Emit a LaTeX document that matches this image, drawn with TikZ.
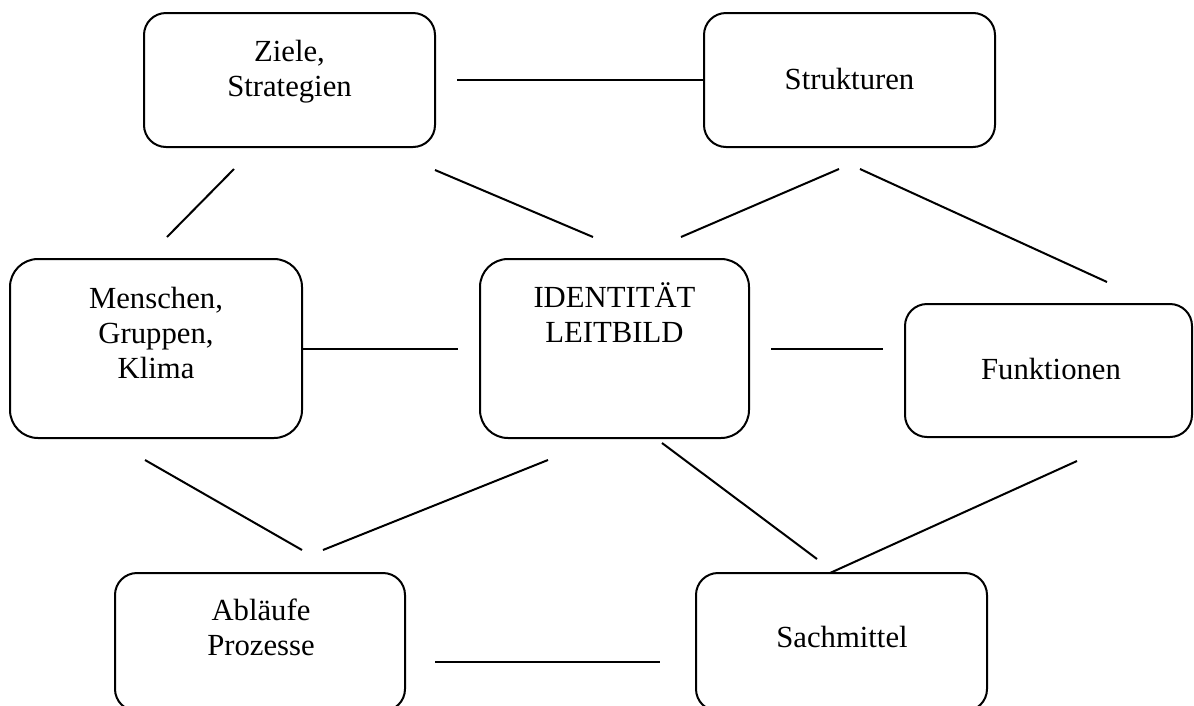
\documentclass[tikz,border=0pt]{standalone}
\usepackage{fontspec}
\setmainfont{Liberation Serif}
\begin{document}
\begin{tikzpicture}[x=1pt,y=-1pt,
  box/.style={draw=black, line width=2pt, rounded corners=22pt, inner sep=0pt},
  tallbox/.style={box, rounded corners=28pt},
  txt/.style={anchor=north, inner sep=0pt, align=center, font=\fontsize{30.7}{35.3}\selectfont},
  conn/.style={draw=black, line width=2pt}]
\clip (0,0) rectangle (1194,705);
% boxes
\node[box, minimum width=291pt, minimum height=134pt] (ziele) at (289.5,80) {};
\node[box, minimum width=291pt, minimum height=134pt] (struk) at (849.5,80) {};
\node[tallbox, minimum width=292pt, minimum height=179pt] (mensch) at (156,348.5) {};
\node[tallbox, minimum width=269pt, minimum height=179pt] (ident) at (614.5,348.5) {};
\node[box, minimum width=287pt, minimum height=133pt] (funk) at (1048.5,370.5) {};
\node[box, minimum width=290pt, minimum height=138pt] (ablauf) at (260,642) {};
\node[box, minimum width=291pt, minimum height=138pt] (sach) at (841.5,642) {};
% texts
\node[txt] (zielet) at (289.5,36.3) {\strut Ziele,\\\strut Strategien};
\node[txt] (strukt) at (849.5,64.3) {\strut Strukturen};
\node[txt] (menscht) at (156,283.3) {\strut Menschen,\\\strut Gruppen,\\\strut Klima};
\node[txt] (identt) at (614.5,282.3) {\strut IDENTITÄT\\\strut LEITBILD};
\node[txt] (funkt) at (1051,354.3) {\strut Funktionen};
\node[txt] (ablauft) at (261,595.3) {\strut Abläufe\\\strut Prozesse};
\node[txt] (sacht) at (842,622.3) {\strut Sachmittel};
% connector end points
\coordinate (zs1) at (457,80);
\coordinate (a1) at (234,169);
\coordinate (a2) at (167,237);
\coordinate (b1) at (435,170);
\coordinate (b2) at (593,237);
\coordinate (c1) at (839,169);
\coordinate (c2) at (681,237);
\coordinate (d1) at (860,169);
\coordinate (d2) at (1107,282);
\coordinate (e2) at (458,348.5);
\coordinate (f1) at (771,348.5);
\coordinate (f2) at (883,348.5);
\coordinate (g1) at (145,460);
\coordinate (g2) at (302,550);
\coordinate (h1) at (548,460);
\coordinate (h2) at (323,550);
\coordinate (i1) at (662,443);
\coordinate (i2) at (817,559);
\coordinate (j1) at (1077,461);
\coordinate (j2) at (830,573);
\coordinate (k1) at (435,662);
\coordinate (k2) at (660,662);
% connectors
\draw[conn] (zs1) -- (struk.west);
\draw[conn] (a1) -- (a2);
\draw[conn] (b1) -- (b2);
\draw[conn] (c1) -- (c2);
\draw[conn] (d1) -- (d2);
\draw[conn] (mensch.east) -- (e2);
\draw[conn] (f1) -- (f2);
\draw[conn] (g1) -- (g2);
\draw[conn] (h1) -- (h2);
\draw[conn] (i1) -- (i2);
\draw[conn] (j1) -- (j2);
\draw[conn] (k1) -- (k2);
\end{tikzpicture}
\end{document}
